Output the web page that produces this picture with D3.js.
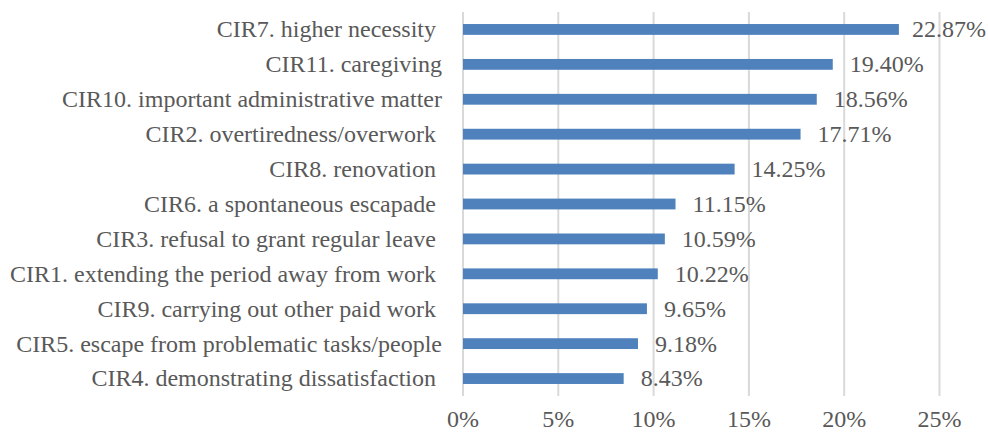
<!DOCTYPE html>
<html><head><meta charset="utf-8">
<script src="https://cdn.jsdelivr.net/npm/d3@7"></script>
<style>
html,body{margin:0;padding:0;background:#fff;}
svg text{font-family:"Liberation Serif","Times New Roman",serif;white-space:pre;}
</style></head>
<body><svg id="chart" width="988" height="434"></svg>
<script>
const categories = [
  "CIR7. higher necessity ",
  "CIR11. caregiving",
  "CIR10. important administrative matter",
  "CIR2. overtiredness/overwork ",
  "CIR8. renovation ",
  "CIR6. a spontaneous escapade ",
  "CIR3. refusal to grant regular leave ",
  "CIR1. extending the period away from work ",
  "CIR9. carrying out other paid work ",
  "CIR5. escape from problematic tasks/people",
  "CIR4. demonstrating dissatisfaction "
];
const values = [22.87, 19.40, 18.56, 17.71, 14.25, 11.15, 10.59, 10.22, 9.65, 9.18, 8.43];
const valueLabels = ["22.87%","19.40%","18.56%","17.71%","14.25%","11.15%","10.59%","10.22%","9.65%","9.18%","8.43%"];
const ticks = [0, 5, 10, 15, 20, 25];
const tickLabels = ["0%","5%","10%","15%","20%","25%"];

const svg = d3.select("#chart");
const x = d3.scaleLinear().domain([0, 25]).range([463, 939.5]);
const y = d3.scaleBand().domain(categories).range([12, 396]).paddingInner(0.69).paddingOuter(0.345);

// gridlines
svg.append("g").selectAll("line").data(ticks).join("line")
  .attr("x1", d => x(d)).attr("x2", d => x(d))
  .attr("y1", 12).attr("y2", 396)
  .attr("stroke", "#d9d9d9").attr("stroke-width", 2);

// bars
svg.append("g").selectAll("rect").data(values).join("rect")
  .attr("x", x(0)).attr("y", (d, i) => y(categories[i]))
  .attr("width", d => x(d) - x(0)).attr("height", y.bandwidth())
  .attr("fill", "#4f81bd");

// value labels
const vl = svg.append("g").selectAll("text").data(values).join("text")
  .attr("y", (d, i) => y(categories[i]) + y.bandwidth() / 2)
  .attr("dy", "0.33em").attr("font-size", 24).attr("fill", "#595959")
  .text((d, i) => valueLabels[i]);
vl.each(function(d) {
  const w = this.getComputedTextLength();
  let px = x(d) + 17;
  if (px + w > 986) px = 986 - w;
  d3.select(this).attr("x", px);
});

// category labels
svg.append("g").selectAll("text").data(categories).join("text")
  .attr("x", 442).attr("y", d => y(d) + y.bandwidth() / 2)
  .attr("dy", "0.33em").attr("text-anchor", "end").attr("font-size", 24).attr("fill", "#595959")
  .text(d => d);

// x tick labels
svg.append("g").selectAll("text").data(ticks).join("text")
  .attr("x", d => x(d)).attr("y", 427)
  .attr("text-anchor", "middle").attr("font-size", 24).attr("fill", "#595959")
  .text((d, i) => tickLabels[i]);
</script></body></html>
